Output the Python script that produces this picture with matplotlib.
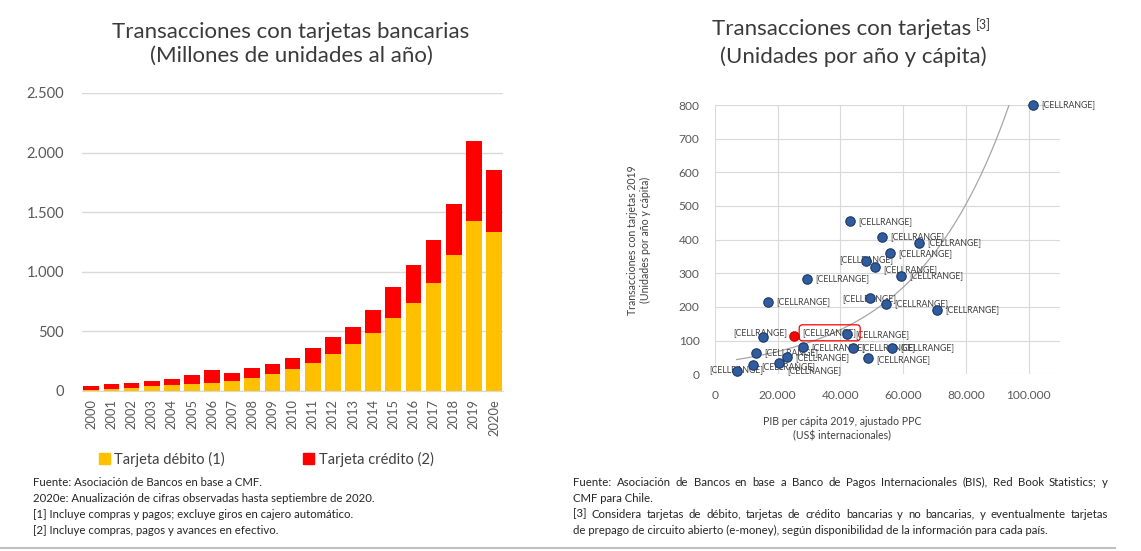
import numpy as np
import matplotlib
matplotlib.use('Agg')
import matplotlib.pyplot as plt
from matplotlib.patches import Patch

plt.rcParams['font.family'] = ['Lato', 'DejaVu Sans']

# ---------------- data ----------------
years = ['2000', '2001', '2002', '2003', '2004', '2005', '2006', '2007', '2008', '2009',
         '2010', '2011', '2012', '2013', '2014', '2015', '2016', '2017', '2018', '2019', '2020e']
debito = [10, 14, 22, 42, 50, 59, 70, 84, 106, 140, 182, 238, 311, 392, 484, 616, 742, 904, 1142, 1428, 1338]
credito = [32, 45, 42, 42, 51, 75, 104, 70, 87, 87, 98, 126, 140, 148, 196, 255, 311, 364, 428, 672, 518]

gdp_pc = [101300, 43000, 53300, 65000, 55700, 48300, 51000, 59400, 29200, 17000, 49300, 54600,
          70800, 15400, 42100, 28100, 44000, 56300, 13000, 23000, 48800, 12200, 20500, 6900]
trans_pc = [800, 455, 409, 391, 359, 337, 320, 292, 283, 216, 226, 210,
            191, 110, 121, 80, 79, 78, 64, 51, 48, 27, 33, 9]
chile_gdp = [25300]
chile_trans = [115]
point_label = '[CELLRANGE]'

left_title = 'Transacciones con tarjetas bancarias\n(Millones de unidades al año)'
right_title_1 = 'Transacciones con tarjetas'
right_title_sup = '[3]'
right_title_2 = '(Unidades por año y cápita)'
legend_labels = ['Tarjeta débito (1)', 'Tarjeta crédito (2)']
xlabel_right = 'PIB per cápita 2019, ajustado PPC\n(US\\$ internacionales)'
ylabel_right = 'Transacciones con tarjetas 2019\n(Unidades por año y cápita)'
left_notes = ['Fuente: Asociación de Bancos en base a CMF.',
              '2020e: Anualización de cifras observadas hasta septiembre de 2020.',
              '[1] Incluye compras y pagos; excluye giros en cajero automático.',
              '[2] Incluye compras, pagos y avances en efectivo.']
right_notes = ['Fuente: Asociación de Bancos en base a Banco de Pagos Internacionales (BIS), Red Book Statistics; y',
               'CMF para Chile.',
               '[3] Considera tarjetas de débito, tarjetas de crédito bancarias y no bancarias, y eventualmente tarjetas',
               'de prepago de circuito abierto (e-money), según disponibilidad de la información para cada país.']
right_notes_justify = [True, False, True, False]

# label offsets (points) for scatter labels: layout only
label_offsets = [(6, 0), (6, 0), (6, 0), (6, 0), (6, 0), (0, 1), (6, -2), (6, 0), (6, 0), (6, 0),
                 (0, 0), (6, 0), (6, 0), (-2, 3), (6, -1), (6, 0), (6, 0), (6, 0), (6, 0),
                 (6, 0), (6, -1), (6, -1), (6, -5), (0, 1)]
label_ha = ['left', 'left', 'left', 'left', 'left', 'center', 'left', 'left', 'left', 'left',
            'center', 'left', 'left', 'center', 'left', 'left', 'left', 'left', 'left',
            'left', 'left', 'left', 'left', 'center']

W, H = 1141, 551
fig = plt.figure(figsize=(W / 100, H / 100), dpi=100)

GRAY_TXT = '#595959'
GRID = '#D9D9D9'
NOTE_FS = 8.2

# ---------------- left chart ----------------
ax1 = fig.add_axes([82 / W, 1 - 391 / H, (503 - 82) / W, (391 - 93) / H])
x = np.arange(len(years))
ax1.bar(x, debito, width=0.78, color='#FFC000', zorder=3)
ax1.bar(x, credito, bottom=debito, width=0.78, color='#FF0000', zorder=3)
ax1.set_ylim(0, 2500)
ax1.set_xlim(-0.46, len(years) - 0.55)
yt = list(range(0, 2501, 500))
ax1.set_yticks(yt)
ax1.set_yticklabels([f'{v:,}'.replace(',', '.') for v in yt], fontsize=10.5, color=GRAY_TXT)
ax1.set_xticks(x)
ax1.set_xticklabels(years, rotation=90, fontsize=9.3, color=GRAY_TXT)
ax1.yaxis.grid(True, color=GRID, lw=1, zorder=0)
for s in ['top', 'right', 'left']:
    ax1.spines[s].set_visible(False)
ax1.spines['bottom'].set_color(GRID)
ax1.tick_params(axis='both', length=0)
ax1.tick_params(axis='y', pad=13)
ax1.tick_params(axis='x', pad=6)

fig.text(291 / W, 1 - 44 / H, left_title, ha='center', va='center', fontsize=16,
         color='#3a3a3a', linespacing=1.25)

handles = [Patch(color='#FFC000'), Patch(color='#FF0000')]
fig.legend(handles, legend_labels, loc='center', bbox_to_anchor=(266 / W, 1 - 459 / H),
           ncol=2, frameon=False, fontsize=10.5, handlelength=0.75, handleheight=0.75,
           handletextpad=0.3, columnspacing=5.4, labelcolor='#404040')

for i, line in enumerate(left_notes):
    fig.text(33 / W, 1 - (482 + 16 * i) / H, line, ha='left', va='center', fontsize=NOTE_FS,
             color='#262626')

# ---------------- right chart ----------------
ax2 = fig.add_axes([715 / W, 1 - 374.3 / H, (1060 - 715) / W, (374.3 - 105) / H])
ax2.set_xlim(0, 110000)
ax2.set_ylim(0, 800)
xt = list(range(0, 100001, 20000))
ax2.set_xticks(xt)
ax2.set_xticklabels([f'{v:,}'.replace(',', '.') for v in xt], fontsize=8.6, color=GRAY_TXT)
yt2 = list(range(0, 801, 100))
ax2.set_yticks(yt2)
ax2.set_yticklabels([str(v) for v in yt2], fontsize=8.6, color=GRAY_TXT)
ax2.grid(True, color=GRID, lw=0.8, zorder=0)
for s in ax2.spines.values():
    s.set_visible(False)
ax2.tick_params(axis='both', length=0)
ax2.tick_params(axis='y', pad=11)
ax2.tick_params(axis='x', pad=11)

# exponential trend fitted on all points
all_x = np.array(gdp_pc + chile_gdp, dtype=float)
all_y = np.array(trans_pc + chile_trans, dtype=float)
b, lna = np.polyfit(all_x, np.log(all_y), 1)
xx = np.linspace(all_x.min(), all_x.max(), 300)
ax2.plot(xx, np.exp(lna + b * xx), color='#A6A6A6', lw=0.9, zorder=2)

ax2.scatter(gdp_pc, trans_pc, s=46, color='#2E5C9E', edgecolor='#1F3864', lw=0.8,
            zorder=4, clip_on=False)
ax2.scatter(chile_gdp, chile_trans, s=46, color='#FF0000', edgecolor='#C00000', lw=0.8,
            zorder=4, clip_on=False)

LBL_FS = 6.3
for xi, yi, off, ha in zip(gdp_pc, trans_pc, label_offsets, label_ha):
    ax2.annotate(point_label, (xi, yi), xytext=off, textcoords='offset points',
                 ha=ha, va='center', fontsize=LBL_FS, color='#404040', zorder=3,
                 annotation_clip=False)
ax2.annotate(point_label, (chile_gdp[0], chile_trans[0]), xytext=(6, 2),
             textcoords='offset points', ha='left', va='center', fontsize=LBL_FS,
             color='#404040', zorder=3,
             bbox=dict(boxstyle='round,pad=0.4', fc='none', ec='#FF0000', lw=0.9))

t1 = fig.text(842 / W, 1 - 29 / H, right_title_1, ha='center', va='center', fontsize=16,
              color='#3a3a3a')
fig.text(853 / W, 1 - 57 / H, right_title_2, ha='center', va='center', fontsize=16,
         color='#3a3a3a')
ax2.annotate(right_title_sup, xy=(1, 1), xycoords=t1, xytext=(3, 1),
             textcoords='offset points', ha='left', va='top', fontsize=9, color='#3a3a3a')

fig.text(842 / W, 1 - 429 / H, xlabel_right, ha='center', va='center', fontsize=7.6,
         color='#404040', linespacing=1.35)
fig.text(639 / W, 1 - 240 / H, ylabel_right, ha='center', va='center', rotation=90,
         fontsize=7.6, color='#404040', linespacing=1.25)

# right footnotes (justified where needed)
renderer = fig.canvas.get_renderer()
x0_px, x1_px = 573, 1108
for i, (line, just) in enumerate(zip(right_notes, right_notes_justify)):
    ypos = 1 - (482 + 16 * i) / H
    if not just:
        fig.text(x0_px / W, ypos, line, ha='left', va='center', fontsize=NOTE_FS, color='#262626')
        continue
    words = line.split(' ')
    ts = [fig.text(0, ypos, w, ha='left', va='center', fontsize=NOTE_FS, color='#262626')
          for w in words]
    widths = [t.get_window_extent(renderer).width for t in ts]
    gap = (x1_px - x0_px - sum(widths)) / (len(words) - 1)
    cur = x0_px
    for t, wdt in zip(ts, widths):
        t.set_x(cur / W)
        cur += wdt + gap

# bottom separator line
fig.add_artist(plt.Line2D([0, 1115 / W], [1 - 548 / H, 1 - 548 / H], color='#BFBFBF', lw=1.5))

fig.savefig('out.png', dpi=100)
